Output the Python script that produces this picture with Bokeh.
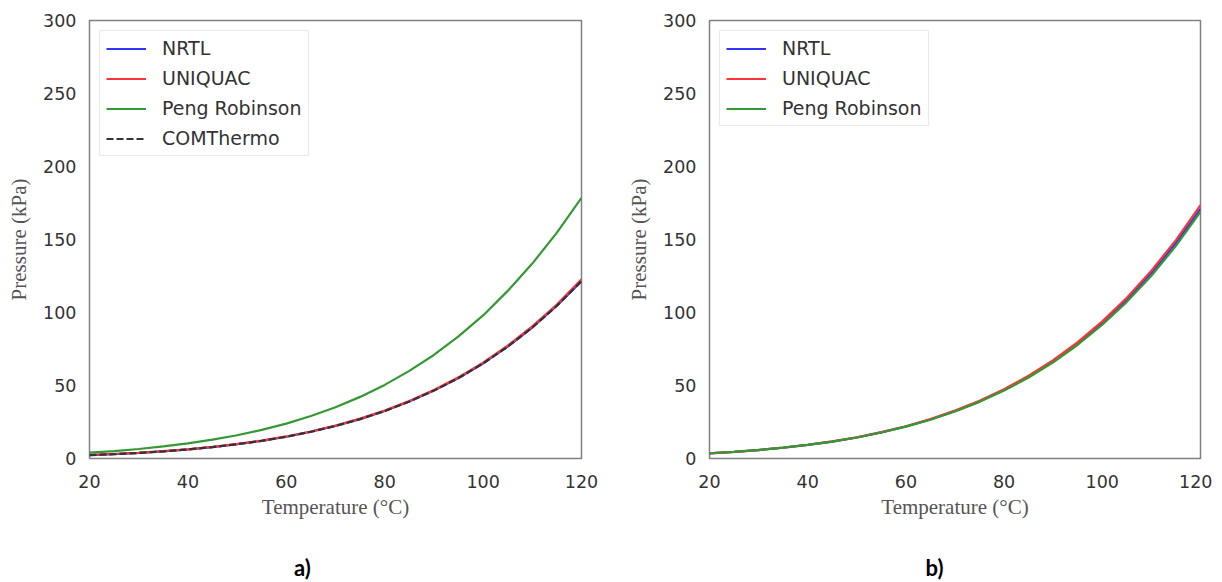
from bokeh.plotting import figure
from bokeh.models import Range1d, Legend, LegendItem, FixedTicker
from bokeh.core.properties import value
from bokeh.layouts import row, column
from bokeh.embed import file_html
from bokeh.resources import INLINE

# ---------------- data ----------------
temps = [20, 25, 30, 35, 40, 45, 50, 55, 60, 65, 70, 75, 80, 85, 90, 95, 100, 105, 110, 115, 120]

# panel a)
a_nrtl = [2.3, 3.0, 3.8, 4.9, 6.2, 7.8, 9.8, 12.1, 14.9, 18.3, 22.3, 27.0, 32.5, 39.0, 46.5, 55.1, 65.1, 76.6, 89.7, 104.6, 121.5]
a_uniquac = [2.4, 3.1, 3.9, 5.0, 6.3, 7.9, 9.9, 12.3, 15.1, 18.5, 22.5, 27.3, 32.8, 39.3, 46.9, 55.6, 65.7, 77.3, 90.5, 105.5, 122.8]
a_peng = [4.0, 5.1, 6.5, 8.3, 10.3, 12.9, 15.9, 19.6, 23.9, 29.1, 35.1, 42.2, 50.4, 60.0, 70.9, 83.6, 98.0, 114.8, 133.5, 154.7, 178.5]
a_comthermo = [2.3, 3.0, 3.8, 4.9, 6.2, 7.8, 9.8, 12.1, 14.9, 18.3, 22.3, 27.0, 32.5, 39.0, 46.5, 55.1, 65.1, 76.6, 89.7, 104.6, 121.5]

# panel b)
b_nrtl = [3.5, 4.5, 5.8, 7.35, 9.3, 11.6, 14.4, 17.9, 21.9, 26.7, 32.5, 39.1, 47.0, 56.1, 66.7, 78.8, 92.8, 108.8, 127.0, 147.6, 171.0]
b_uniquac = [3.5, 4.5, 5.8, 7.4, 9.4, 11.7, 14.5, 18.1, 22.1, 27.0, 32.8, 39.5, 47.5, 56.7, 67.4, 79.7, 93.9, 110.1, 128.6, 149.6, 173.5]
b_peng = [3.6, 4.6, 5.9, 7.4, 9.3, 11.6, 14.4, 17.8, 21.8, 26.5, 32.2, 38.8, 46.5, 55.5, 65.9, 77.9, 91.6, 107.3, 125.2, 145.6, 169.0]

x_ticks = [20, 40, 60, 80, 100, 120]
y_ticks = [0, 50, 100, 150, 200, 250, 300]
panel_labels = ["a)", "b)"]

BLUE = "#3333ff"
RED = "#ff3333"
GREEN = "#339933"
BLACK = "#333333"


def make_fig(fig_w, left_border, right_border, series):
    p = figure(width=fig_w, height=524, output_backend="svg", toolbar_location=None,
               x_range=Range1d(20, 120), y_range=Range1d(0, 300),
               min_border_left=left_border, min_border_right=right_border,
               min_border_top=20, min_border_bottom=66)
    p.grid.visible = False
    p.outline_line_color = "#808080"
    p.outline_line_width = 1.5
    p.background_fill_color = "white"
    p.border_fill_color = "white"

    for ax in (p.xaxis[0], p.yaxis[0]):
        ax.axis_line_color = None
        ax.major_tick_line_color = None
        ax.minor_tick_line_color = None
        ax.major_tick_out = 0
        ax.major_tick_in = 0
        ax.minor_tick_out = 0
        ax.minor_tick_in = 0
        ax.major_label_text_font = "DejaVu Sans"
        ax.major_label_text_font_size = "17.5px"
        ax.major_label_text_color = "#333333"
        ax.axis_label_text_font = "Liberation Serif"
        ax.axis_label_text_font_size = "21px"
        ax.axis_label_text_font_style = "normal"
        ax.axis_label_text_color = "#555555"
    p.xaxis[0].ticker = FixedTicker(ticks=x_ticks)
    p.yaxis[0].ticker = FixedTicker(ticks=y_ticks)
    p.xaxis[0].major_label_standoff = 16
    p.yaxis[0].major_label_standoff = 13
    p.xaxis[0].axis_label = "Temperature (°C)"
    p.yaxis[0].axis_label = "Pressure (kPa)"
    p.xaxis[0].axis_label_standoff = 4
    p.yaxis[0].axis_label_standoff = 9

    items = []
    for name, ys, color, dash in series:
        r = p.line(temps, ys, line_color=color, line_width=2.2, line_dash=dash)
        items.append(LegendItem(label=name, renderers=[r]))

    leg = Legend(items=items, location="top_left")
    leg.label_text_font = "DejaVu Sans"
    leg.label_text_font_size = "19px"
    leg.label_text_color = "#333333"
    leg.glyph_width = 40
    leg.glyph_height = 21
    leg.label_height = 21
    leg.label_standoff = 16
    leg.spacing = 8
    leg.padding = 6
    leg.margin = 10
    leg.border_line_color = "#d6d6d6"
    leg.border_line_width = 1
    leg.background_fill_alpha = 0.85
    p.add_layout(leg)
    return p


def make_label_fig(fig_w, label, x_center):
    q = figure(width=fig_w, height=56, output_backend="svg", toolbar_location=None,
               x_range=Range1d(0, fig_w), y_range=Range1d(0, 56),
               min_border_left=0, min_border_right=0, min_border_top=0, min_border_bottom=0)
    q.axis.visible = False
    q.grid.visible = False
    q.outline_line_color = None
    q.background_fill_color = "white"
    q.border_fill_color = "white"
    q.text(x=[x_center], y=[13], text=[label], text_align="center", text_baseline="middle",
           text_font=value("Lato"), text_font_style="bold", text_font_size="22px",
           text_color="black")
    return q


p1 = make_fig(609, 89, 28, [
    ("NRTL", a_nrtl, BLUE, "solid"),
    ("UNIQUAC", a_uniquac, RED, "solid"),
    ("Peng Robinson", a_peng, GREEN, "solid"),
    ("COMThermo", a_comthermo, BLACK, "7 3"),
])

p2 = make_fig(603, 100, 12, [
    ("NRTL", b_nrtl, BLUE, "solid"),
    ("UNIQUAC", b_uniquac, RED, "solid"),
    ("Peng Robinson", b_peng, GREEN, "solid"),
])

qa = make_label_fig(609, panel_labels[0], 302)
qb = make_label_fig(603, panel_labels[1], 325)

layout = column(row(p1, p2), row(qa, qb))
open("out.html", "w").write(file_html(layout, INLINE))
